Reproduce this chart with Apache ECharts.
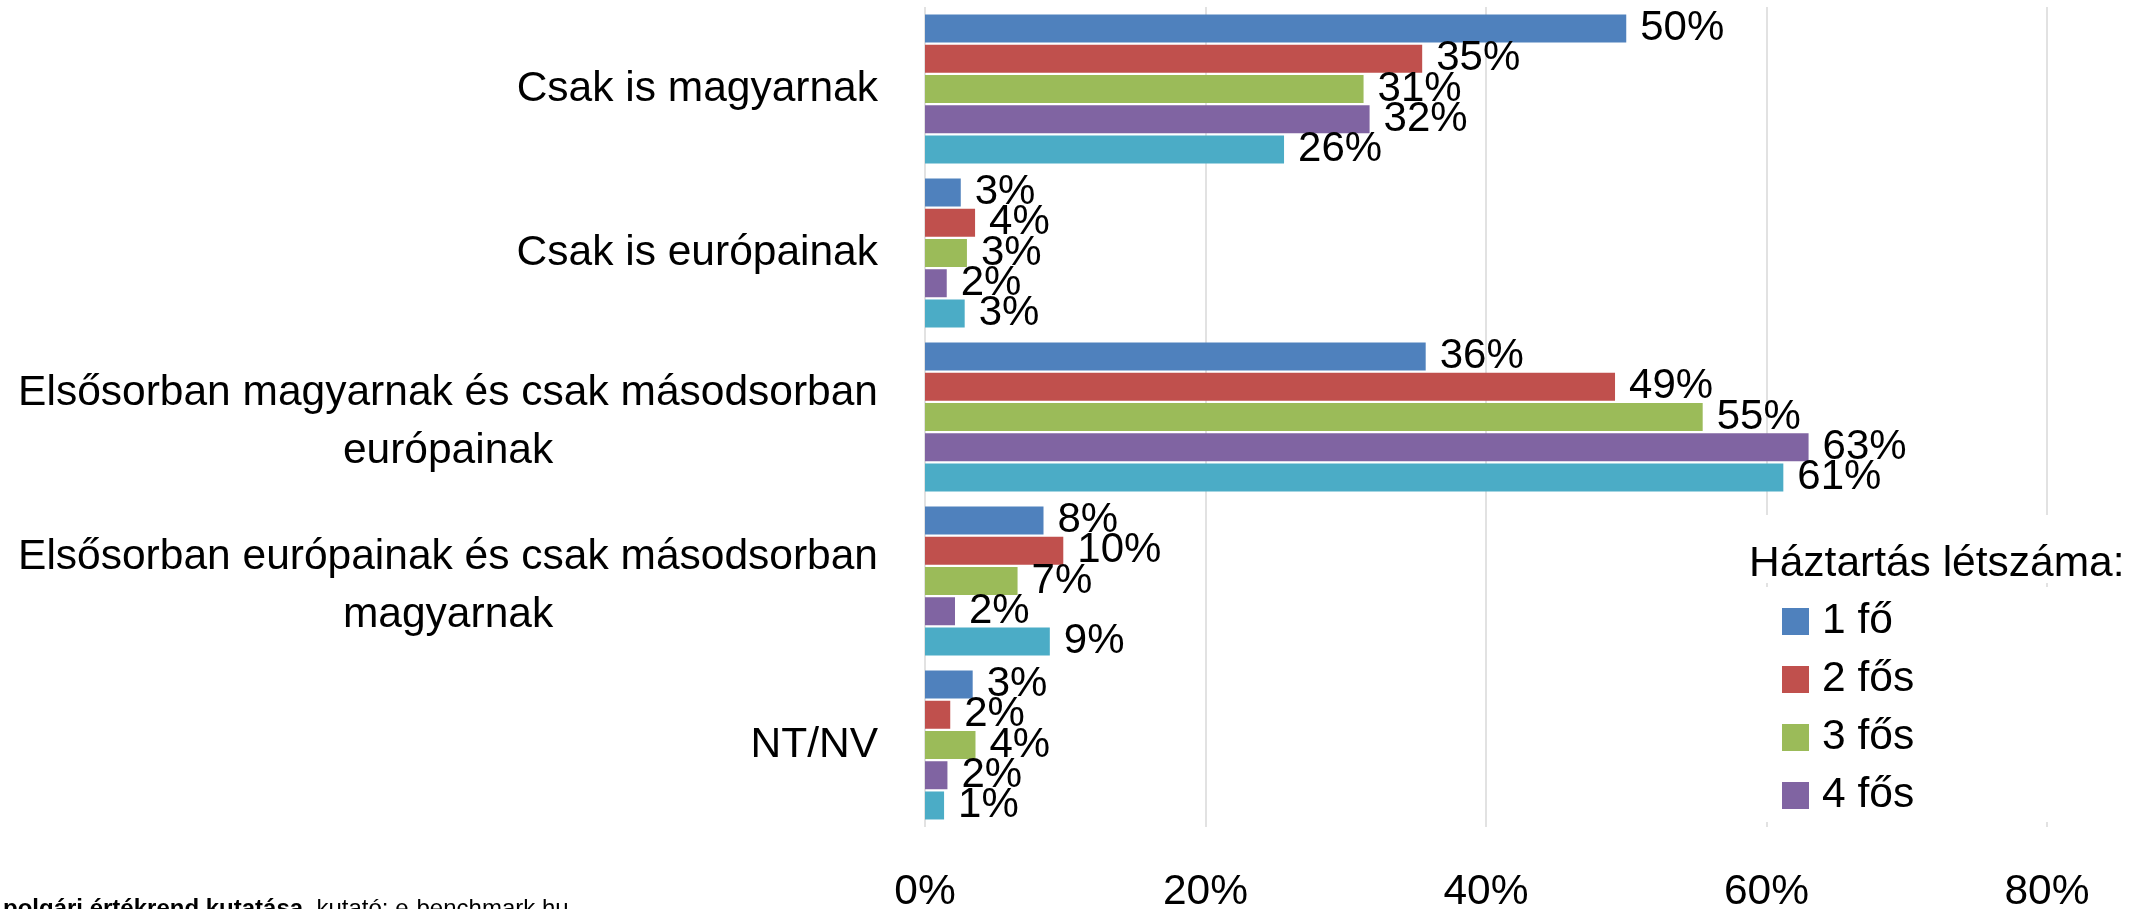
<!DOCTYPE html>
<html>
<head>
<meta charset="utf-8">
<script src="https://cdn.jsdelivr.net/npm/echarts@6/dist/echarts.min.js"></script>
<style>
  html, body { margin: 0; padding: 0; background: #fff; }
  #chart { width: 2147px; height: 909px; }
</style>
</head>
<body>
<div id="chart"></div>
<script>
// kategóriák (fentről lefelé)
var categories = [
  'Csak is magyarnak',
  'Csak is európainak',
  'Elsősorban magyarnak és csak másodsorban\neurópainak',
  'Elsősorban európainak és csak másodsorban\nmagyarnak',
  'NT/NV'
];
var seriesNames = ['1 fő', '2 fős', '3 fős', '4 fős', '5 fős vagy több'];
var legendNames = ['1 fő', '2 fős', '3 fős', '4 fős'];
var colors = ['#4f81bd', '#c0504d', '#9bbb59', '#8064a2', '#4bacc6'];

// értékek (%)
var hh1 = [50.0, 2.55, 35.7, 8.45, 3.4];
var hh2 = [35.45, 3.57, 49.2, 9.86, 1.8];
var hh3 = [31.27, 2.99, 55.45, 6.6, 3.6];
var hh4 = [31.7, 1.55, 63.0, 2.14, 1.6];
var hh5 = [25.6, 2.83, 61.2, 8.9, 1.36];
var values = [hh1, hh2, hh3, hh4, hh5];

var xTicks = [0, 20, 40, 60, 80];

var FONT = '"Liberation Sans", Arial, sans-serif';

var chart = echarts.init(document.getElementById('chart'));

var series = values.map(function (data, i) {
  return {
    name: seriesNames[i],
    type: 'bar',
    data: data,
    barWidth: 28,
    barGap: '8%',
    itemStyle: { color: colors[i] },
    label: {
      show: true,
      position: 'right',
      distance: 14,
      color: '#000',
      fontFamily: FONT,
      fontSize: 42,
      formatter: function (p) { return Math.round(p.value) + '%'; }
    },
    z: 3
  };
});

chart.setOption({
  animation: false,
  backgroundColor: '#fff',
  textStyle: { fontFamily: FONT },
  title: {
    text: 'Háztartás létszáma:',
    left: 1749,
    top: 543,
    padding: 0,
    textStyle: { fontFamily: FONT, fontSize: 42.5, fontWeight: 'normal', color: '#000', lineHeight: 42 }
  },
  legend: {
    data: legendNames,
    orient: 'vertical',
    left: 1782,
    top: 600,
    itemWidth: 27,
    itemHeight: 27,
    itemGap: 15,
    padding: 0,
    icon: 'rect',
    textStyle: { fontFamily: FONT, fontSize: 42.5, color: '#000', lineHeight: 42, padding: [0, 0, 0, 8] }
  },
  graphic: [
    { type: 'rect', shape: { x: 1735, y: 515, width: 412, height: 68 }, style: { fill: '#fff' }, z: 1 },
    { type: 'rect', shape: { x: 1735, y: 587, width: 412, height: 235 }, style: { fill: '#fff' }, z: 1 },
    {
      type: 'text',
      left: 3,
      top: 897,
      style: {
        text: '{b|polgári értékrend kutatása}, kutató: e-benchmark.hu',
        fontFamily: FONT,
        fontSize: 24,
        fill: '#000',
        rich: { b: { fontFamily: FONT, fontSize: 24, fontWeight: 'bold', fill: '#000' } }
      },
      z: 5
    }
  ],
  grid: { left: 925, right: 100, top: 7, bottom: 82, outerBoundsMode: 'none', containLabel: false },
  xAxis: {
    type: 'value',
    min: xTicks[0],
    max: xTicks[xTicks.length - 1],
    interval: 20,
    axisLine: { show: false },
    axisTick: { show: false },
    splitLine: { show: true, lineStyle: { color: '#d9d9d9', width: 1.5 } },
    axisLabel: {
      margin: 44,
      color: '#000',
      fontFamily: FONT,
      fontSize: 42.5,
      lineHeight: 42,
      formatter: '{value}%'
    }
  },
  yAxis: {
    type: 'category',
    data: categories,
    inverse: true,
    axisLine: { show: false },
    axisTick: { show: false },
    axisLabel: {
      margin: 47,
      color: '#000',
      formatter: function (v) {
        var lines = v.split('\n');
        if (lines.length === 1) return '{c|' + v + '}';
        return '{d|' + lines[0] + '}\n{d|' + lines[1] + '}';
      },
      rich: {
        c: { align: 'center', fontFamily: FONT, fontSize: 42.5, lineHeight: 58, color: '#000' },
        d: { align: 'center', fontFamily: FONT, fontSize: 42.5, lineHeight: 58, color: '#000', padding: [11, 0, 0, 0] }
      }
    }
  },
  series: series
});
</script>
</body>
</html>
